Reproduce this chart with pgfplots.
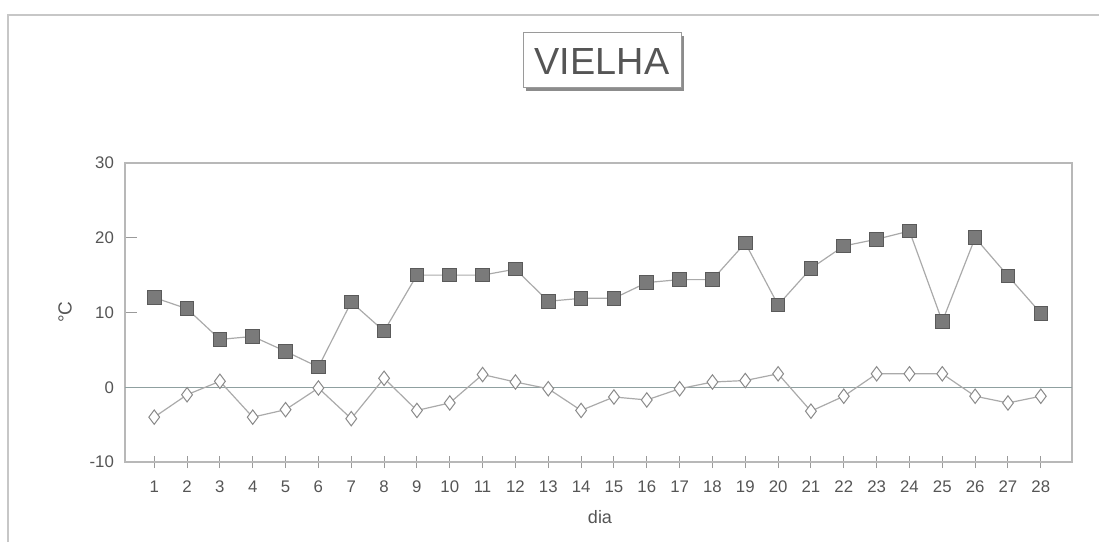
\documentclass[border=0pt]{standalone}
\usepackage{pgfplots}
\pgfplotsset{compat=1.18}
\usepackage{fontspec}
\setmainfont{Liberation Sans}
\definecolor{axgray}{HTML}{9A9A9A}
\definecolor{txtgray}{HTML}{555555}
\definecolor{lngray}{HTML}{AAAAAA}
\definecolor{sqfill}{HTML}{7A7A7A}
\definecolor{sqdraw}{HTML}{5A5A5A}
\definecolor{dmdraw}{HTML}{8A8A8A}
\definecolor{zerol}{HTML}{8FA0A0}
\begin{document}
\begin{tikzpicture}
\path[use as bounding box] (0,0) rectangle (549.5pt,271pt);
% outer chart frame
\draw[color=black!22, line width=0.8pt] (4pt,0pt) -- (4pt,263.5pt) -- (549.5pt,263.5pt);
% title box with shadow
\fill[black!45] (263pt,225.5pt) rectangle (342pt,253pt);
\draw[axgray, fill=white, line width=0.5pt] (261.5pt,227pt) rectangle (340.5pt,254.5pt);
\node[txtgray, font=\fontsize{18.9}{22}\selectfont] at (301pt,240.5pt) {VIELHA};
% axis labels
\node[txtgray, rotate=90, font=\fontsize{9.5}{11}\selectfont] at (32.5pt,115pt) {°C};
\node[txtgray, font=\fontsize{9}{11}\selectfont] at (300pt,12.5pt) {dia};
\begin{axis}[
  at={(62.5pt,40pt)}, anchor=south west,
  scale only axis, width=473.5pt, height=149.5pt,
  xmin=0.11, xmax=28.95, ymin=-10, ymax=30,
  xtick={1,...,28}, ytick={-10,0,10,20,30},
  axis line style={axgray!70, line width=0.6pt},
  tick style={axgray, line width=0.5pt},
  major tick length=6pt,
  xtick align=center, ytick align=inside,
  xtick pos=bottom, ytick pos=left,
  tick label style={txtgray, font=\fontsize{8.4}{10}\selectfont},
  /pgf/number format/assume math mode=true,
  xticklabel style={yshift=-3pt},
  yticklabel style={xshift=-2pt},
  clip=false,
]
\addplot[zerol, line width=0.6pt, forget plot] coordinates {(0.11,0) (28.95,0)};
\addplot[lngray, line width=0.6pt, mark=square*, mark size=3.4pt,
  mark options={fill=sqfill, draw=sqdraw, line width=0.5pt}] coordinates {
(1,12.0) (2,10.5) (3,6.4) (4,6.8) (5,4.8) (6,2.7) (7,11.4) (8,7.5)
(9,15) (10,15) (11,15) (12,15.8) (13,11.5) (14,11.9) (15,11.9) (16,14.0)
(17,14.4) (18,14.4) (19,19.3) (20,11.0) (21,15.9) (22,18.9) (23,19.8) (24,20.9)
(25,8.8) (26,20.0) (27,14.9) (28,9.9)};
\addplot[lngray, line width=0.6pt, mark=diamond*, mark size=3.6pt,
  mark options={fill=white, draw=dmdraw, line width=0.5pt}] coordinates {
(1,-4.0) (2,-1.0) (3,0.8) (4,-4.0) (5,-3.0) (6,-0.1) (7,-4.2) (8,1.2)
(9,-3.1) (10,-2.1) (11,1.7) (12,0.7) (13,-0.2) (14,-3.1) (15,-1.3) (16,-1.7)
(17,-0.2) (18,0.7) (19,0.9) (20,1.8) (21,-3.2) (22,-1.2) (23,1.8) (24,1.8)
(25,1.8) (26,-1.2) (27,-2.1) (28,-1.2)};
\end{axis}
\end{tikzpicture}
\end{document}
